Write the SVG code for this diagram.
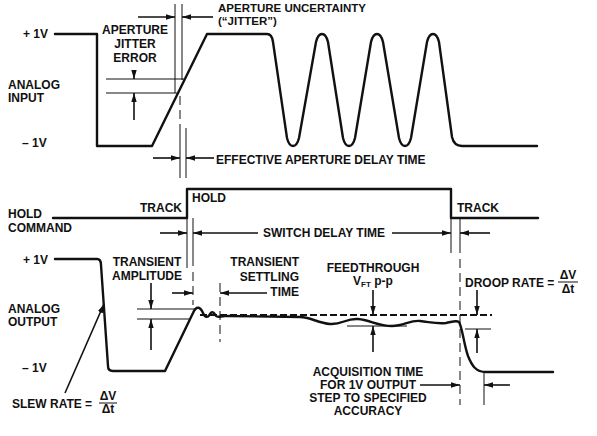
<svg xmlns="http://www.w3.org/2000/svg" width="597" height="436" viewBox="0 0 597 436">
<defs>
<marker id="ah" viewBox="0 0 10 6" refX="10" refY="3" markerWidth="9" markerHeight="5.5" markerUnits="userSpaceOnUse" orient="auto">
<path d="M0,0 L10,3 L0,6 z" fill="#111"/>
</marker>
<style>
text{font-family:"Liberation Sans",Arial,sans-serif;font-weight:bold;font-size:12px;fill:#111}
.mid{text-anchor:middle}
.end{text-anchor:end}
.sm{font-size:11.5px}
.wave{fill:none;stroke:#111;stroke-width:2.4;stroke-linejoin:round;stroke-linecap:round}
.thin{fill:none;stroke:#111;stroke-width:1}
.dash{fill:none;stroke:#111;stroke-width:1;stroke-dasharray:9 5}
.arr{fill:none;stroke:#111;stroke-width:1.6;marker-end:url(#ah)}
</style>
</defs>
<rect width="597" height="436" fill="#fff"/>

<g id="analog-input">
<text x="23" y="38">+ 1V</text>
<text x="22" y="147">– 1V</text>
<text x="8" y="89">ANALOG</text>
<text x="8" y="102">INPUT</text>
<path class="wave" d="M55,34 H97 V146 H152 L207,34 H267 Q272,34 273,42 L287,138 Q289,146 293,146 Q297,146 299,138 L316,42 Q318,34 322,34 Q326,34 328,42 L343,138 Q345,146 349,146 Q353,146 355,138 L371,42 Q373,34 377,34 Q381,34 383,42 L399,138 Q401,146 405,146 Q409,146 411,138 L427,42 Q429,34 433,34 Q437,34 439,42 L452,137 Q454,146 462,146 H537"/>
</g>

<g id="aperture-jitter">
<text class="mid" x="135" y="34">APERTURE</text>
<text class="mid" x="135" y="48">JITTER</text>
<text class="mid" x="135" y="62">ERROR</text>
<line class="thin" x1="106" y1="79" x2="184" y2="79"/>
<line class="thin" x1="106" y1="93" x2="179" y2="93"/>
</g>

<g id="aperture-uncertainty">
<text class="sm" x="218" y="12">APERTURE UNCERTAINTY</text>
<text class="sm" x="218" y="25">(“JITTER”)</text>
<line class="thin" x1="175" y1="4" x2="175" y2="93"/>
<line class="thin" x1="182" y1="4" x2="182" y2="80"/>
<line class="dash" x1="180" y1="96" x2="180" y2="128"/>
</g>

<g id="effective-aperture-delay">
<text x="216" y="164">EFFECTIVE APERTURE DELAY TIME</text>
<line class="thin" x1="180" y1="128" x2="180" y2="178"/>
<line class="thin" x1="186" y1="128" x2="186" y2="178"/>
</g>

<g id="hold-command">
<text x="8" y="218">HOLD</text>
<text x="8" y="232">COMMAND</text>
<text class="end" x="182" y="212">TRACK</text>
<text x="192" y="202">HOLD</text>
<text x="457" y="212">TRACK</text>
<path class="wave" d="M53,218 H187 V189 H451 V218 H538"/>
</g>

<g id="switch-delay">
<text x="263" y="237">SWITCH DELAY TIME</text>
<line class="thin" x1="187" y1="218" x2="187" y2="268"/>
<line class="thin" x1="193" y1="218" x2="193" y2="266"/>
<line class="dash" x1="193" y1="272" x2="193" y2="305"/>
<line class="thin" x1="451" y1="218" x2="451" y2="253"/>
<line class="thin" x1="460" y1="218" x2="460" y2="253"/>
<line class="dash" x1="460" y1="259" x2="460" y2="405"/>
</g>

<g id="analog-output">
<text x="23" y="264">+ 1V</text>
<text x="22" y="372">– 1V</text>
<text x="8" y="313">ANALOG</text>
<text x="8" y="326">OUTPUT</text>
<path class="wave" d="M55,259 H97 Q101,259 101,265 L108,366 Q108,371 113,371 H165 L193,313 C196,306 200,306 203,313 C205,318 208,318 210,314 C212,311 214,312 216,316 C218,318 221,316 225,316 L300,317 C310,317 318,323 330,324 C342,325 346,318 358,319 C370,320 378,326 392,326 C404,326 410,320 420,321 C430,322 436,324 446,323 C452,322 456,320 459,322 C462,326 464,345 468,356 C472,366 476,372 486,372 H553"/>
<line x1="200" y1="315" x2="492" y2="315" stroke="#111" stroke-width="2" stroke-dasharray="7 3"/>
</g>

<g id="transient-amplitude">
<text class="mid" x="147" y="266">TRANSIENT</text>
<text class="mid" x="147" y="280">AMPLITUDE</text>
<line class="thin" x1="137" y1="309" x2="196" y2="309"/>
<line class="thin" x1="137" y1="319" x2="191" y2="319"/>
</g>

<g id="transient-settling">
<text class="end" x="299" y="266">TRANSIENT</text>
<text class="end" x="299" y="281">SETTLING</text>
<text class="end" x="299" y="296">TIME</text>
<line class="dash" x1="220" y1="283" x2="220" y2="342"/>
</g>

<g id="feedthrough">
<text class="mid" x="373" y="272">FEEDTHROUGH</text>
<text x="353" y="285">V<tspan font-size="8" dy="2">FT</tspan><tspan dy="-2"> p-p</tspan></text>
<line class="thin" x1="347" y1="326" x2="407" y2="326"/>
</g>

<g id="droop-rate">
<text x="465" y="287">DROOP RATE =</text>
<text class="mid" x="568" y="279">ΔV</text>
<line class="thin" x1="558" y1="282" x2="578" y2="282"/>
<text class="mid" x="568" y="293">Δt</text>
<line class="thin" x1="465" y1="329" x2="491" y2="329"/>
</g>

<g id="slew-rate">
<text x="12" y="408">SLEW RATE =</text>
<text class="mid" x="108" y="400">ΔV</text>
<line class="thin" x1="99" y1="403" x2="117" y2="403"/>
<text class="mid" x="108" y="413">Δt</text>
</g>

<g id="acquisition-time">
<text class="mid" x="368" y="376">ACQUISITION TIME</text>
<text class="mid" x="368" y="389">FOR 1V OUTPUT</text>
<text class="mid" x="368" y="402">STEP TO SPECIFIED</text>
<text class="mid" x="368" y="415">ACCURACY</text>
<line class="thin" x1="484" y1="373" x2="484" y2="405"/>
</g>

<g id="connectors">
<line class="arr" x1="138" y1="17" x2="175" y2="17"/>
<line class="arr" x1="213" y1="17" x2="182" y2="17"/>
<line class="arr" x1="134" y1="70" x2="134" y2="79"/>
<line class="arr" x1="134" y1="120" x2="134" y2="93"/>
<line class="arr" x1="153" y1="158" x2="180" y2="158"/>
<line class="arr" x1="214" y1="158" x2="186" y2="158"/>
<line class="arr" x1="160" y1="233" x2="187" y2="233"/>
<line class="arr" x1="258" y1="233" x2="193" y2="233"/>
<line class="arr" x1="392" y1="233" x2="451" y2="233"/>
<line class="arr" x1="490" y1="233" x2="460" y2="233"/>
<line class="arr" x1="151" y1="283" x2="151" y2="309"/>
<line class="arr" x1="151" y1="350" x2="151" y2="319"/>
<line class="arr" x1="172" y1="293" x2="193" y2="293"/>
<line class="arr" x1="267" y1="293" x2="220" y2="293"/>
<line class="arr" x1="373" y1="290" x2="373" y2="315"/>
<line class="arr" x1="373" y1="352" x2="373" y2="326"/>
<line class="arr" x1="477" y1="290" x2="477" y2="315"/>
<line class="arr" x1="477" y1="353" x2="477" y2="329"/>
<line class="arr" x1="420" y1="385" x2="460" y2="385"/>
<line class="arr" x1="510" y1="385" x2="484" y2="385"/>
<line class="arr" x1="65" y1="393" x2="104" y2="304"/>
</g>
</svg>
